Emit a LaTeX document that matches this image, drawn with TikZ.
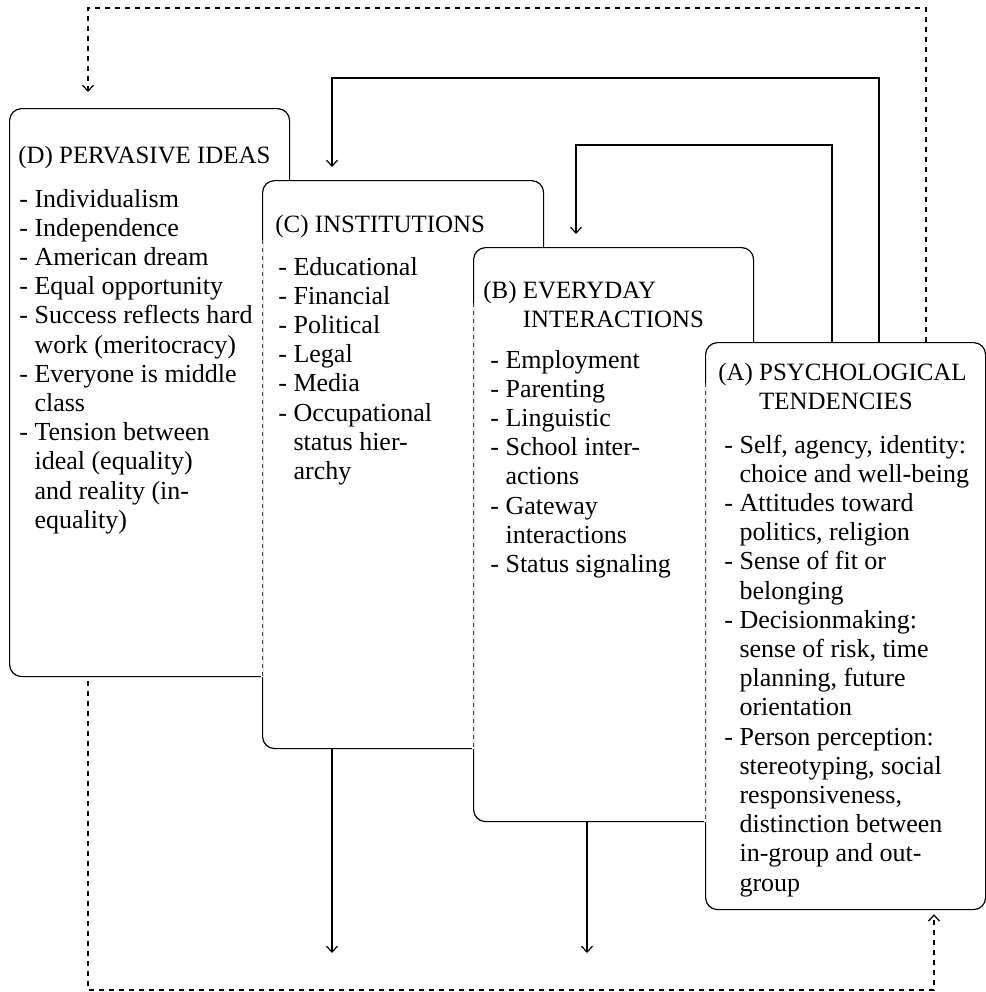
\documentclass[tikz,border=0pt]{standalone}
\usepackage{fontspec}
\setmainfont{Liberation Serif}
\usetikzlibrary{arrows.meta}
\newcommand\Lines[1]{\vtop{\baselineskip=14.6pt\lineskiplimit=-10pt\lineskip=0pt\relax #1}}
\newcommand\Li[1]{\hbox{#1}}
\newcommand\Ci[1]{\hbox{\phantom{-\ }#1}}
\begin{document}
\begin{tikzpicture}[x=0.5pt,y=-0.5pt,
  box/.style={draw, fill=white, rounded corners=6pt, line width=0.6pt, inner sep=0pt, anchor=north west},
  txt/.style={anchor=base west, inner sep=0pt, font=\fontsize{13}{14.6}\selectfont},
  head/.style={txt, font=\fontsize{12.45}{14.6}\selectfont},
  conn/.style={line width=0.6pt, -{Straight Barb[length=3pt,width=5.5pt]}},
  fb/.style={conn, dash pattern=on 2.5pt off 2.5pt},
  hideedge/.style={draw=white, line width=1.4pt},
  hid/.style={line width=0.4pt, dash pattern=on 2pt off 2pt, draw=black!75}
]
\useasboundingbox (0,0) rectangle (986,992);

% (D)
\node[box, minimum width=140pt, minimum height=284pt] (D) at (9,108) {};
\node[head] (Dh) at (18,163) {(D) PERVASIVE IDEAS};
\node[txt] (Di) at (19,207) {\Lines{%
  \Li{- Individualism}\Li{- Independence}\Li{- American dream}\Li{- Equal opportunity}%
  \Li{- Success reflects hard}\Ci{work (meritocracy)}\Li{- Everyone is middle}\Ci{class}%
  \Li{- Tension between}\Ci{ideal (equality)}\Ci{and reality (in-}\Ci{equality)}}};

% (C)
\node[box, minimum width=140.5pt, minimum height=284pt] (C) at (262,180) {};
\draw[hideedge] (C.west |- 0,240) -- (C.west |- D.south);
\draw[hid] (C.west |- 0,240) -- (C.west |- D.south);
\node[head] (Ch) at (275,232) {(C) INSTITUTIONS};
\node[txt] (Ci) at (278,275) {\Lines{%
  \Li{- Educational}\Li{- Financial}\Li{- Political}\Li{- Legal}\Li{- Media}%
  \Li{- Occupational}\Ci{status hier-}\Ci{archy}}};

% (B)
\node[box, minimum width=140pt, minimum height=287pt] (B) at (473,247) {};
\draw[hideedge] (B.west |- 0,303) -- (B.west |- C.south);
\draw[hid] (B.west |- 0,303) -- (B.west |- C.south);
\node[head] (Bh) at (483,298) {\Lines{\Li{(B) EVERYDAY}\Li{\phantom{(B)\ }INTERACTIONS}}};
\node[txt] (Bi) at (490,368) {\Lines{%
  \Li{- Employment}\Li{- Parenting}\Li{- Linguistic}\Li{- School inter-}\Ci{actions}%
  \Li{- Gateway}\Ci{interactions}\Li{- Status signaling}}};

% (A)
\node[box, minimum width=140pt, minimum height=283.5pt] (A) at (705,342) {};
\draw[hideedge] (A.west |- 0,383) -- (A.west |- B.south);
\draw[hid] (A.west |- 0,383) -- (A.west |- B.south);
\node[head] (Ah) at (718,380) {\Lines{\Li{(A) PSYCHOLOGICAL}\Li{\phantom{(A)\ }TENDENCIES}}};
\node[txt] (Ai) at (724,453) {\Lines{%
  \Li{- Self, agency, identity:}\Ci{choice and well-being}%
  \Li{- Attitudes toward}\Ci{politics, religion}%
  \Li{- Sense of fit or}\Ci{belonging}%
  \Li{- Decisionmaking:}\Ci{sense of risk, time}\Ci{planning, future}\Ci{orientation}%
  \Li{- Person perception:}\Ci{stereotyping, social}\Ci{responsiveness,}\Ci{distinction between}\Ci{in-group and out-}\Ci{group}}};

% connectors
\coordinate (a1) at ([xshift=87pt]A.north west);
\coordinate (a2) at ([xshift=63.5pt]A.north west);
\coordinate (a3) at ([xshift=110.5pt]A.north west);
\coordinate (c1) at (332,78);
\coordinate (c2) at (576,145);
\coordinate (c3) at (88,8);
\coordinate (c4) at (88,990);
\coordinate (c5) at (934,990);
\coordinate (e1) at (332,953);
\coordinate (e2) at (587,953);

\draw[conn, shorten >=6.5pt] (a1) |- (c1) -- (c1 |- C.north);
\draw[conn, shorten >=6.5pt] (a2) |- (c2) -- (c2 |- B.north);
\draw[fb, shorten >=8pt] (a3) |- (c3) -- (c3 |- D.north);
\draw[fb, shorten <=2pt, shorten >=2pt] (c4 |- D.south) -- (c4) -- (c5) -- (c5 |- A.south);
\draw[conn] (e1 |- C.south) -- (e1);
\draw[conn] (e2 |- B.south) -- (e2);
\end{tikzpicture}
\end{document}
